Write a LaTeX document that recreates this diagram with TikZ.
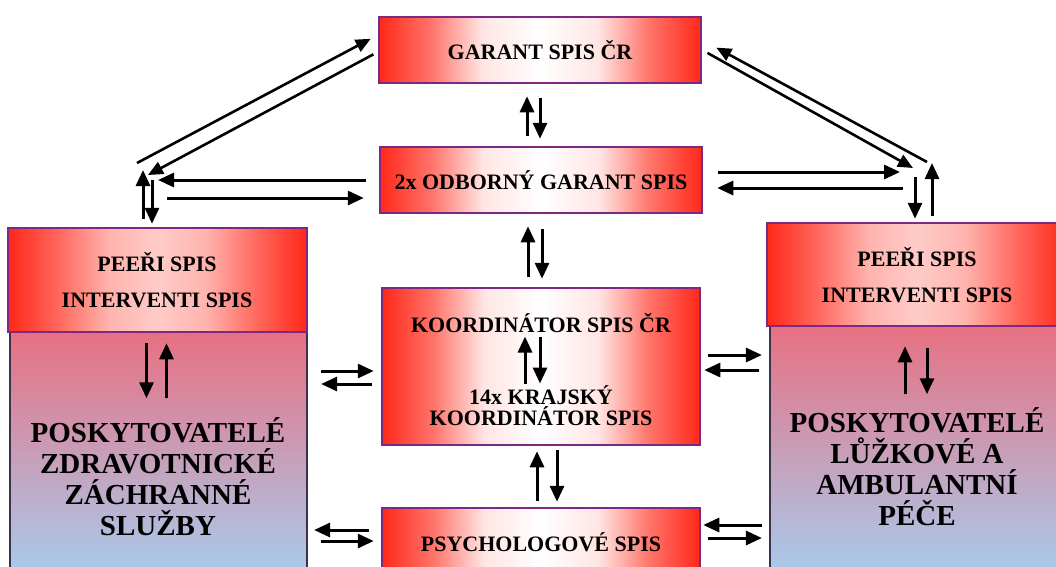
\documentclass[tikz,border=0pt]{standalone}
\usepackage{fontspec}
\setmainfont{Liberation Serif}
\usetikzlibrary{arrows.meta,calc}
\definecolor{cR}{RGB}{255,40,25}
\definecolor{cP}{RGB}{125,40,130}
\definecolor{cB}{RGB}{60,50,75}
\definecolor{cTop}{RGB}{232,112,130}
\definecolor{cBot}{RGB}{166,206,240}
\pgfdeclarehorizontalshading{rwr}{100bp}{color(0bp)=(cR); color(25bp)=(cR); color(33bp)=(cR!65!white); color(41bp)=(cR!12!white); color(50bp)=(white); color(59bp)=(cR!12!white); color(67bp)=(cR!65!white); color(75bp)=(cR); color(100bp)=(cR)}
\pgfdeclarehorizontalshading{rpr}{100bp}{color(0bp)=(cR); color(25bp)=(cR); color(33bp)=(cR!72!white); color(42bp)=(cR!35!white); color(50bp)=(cR!24!white); color(58bp)=(cR!35!white); color(67bp)=(cR!72!white); color(75bp)=(cR); color(100bp)=(cR)}
\tikzset{
  cbox/.style={draw=cP, line width=2.5pt, shading=rwr, minimum width=322pt, inner sep=0pt,
    font=\fontsize{22}{24}\selectfont\bfseries, align=center},
  hbox/.style={draw=cP, line width=2.5pt, shading=rpr, inner sep=0pt},
  bbox/.style={draw=cB, line width=2.2pt, top color=cTop, bottom color=cBot, inner sep=0pt},
  small/.style={font=\fontsize{22}{24}\selectfont\bfseries, align=center, inner sep=0pt},
  big/.style={font=\fontsize{29}{31}\selectfont\bfseries, align=center, inner sep=0pt},
  arr/.style={line width=3pt, -{Triangle[length=16pt,width=14pt]}},
  darr/.style={line width=2.6pt, -{Triangle[length=15pt,width=13pt]}}
}
\begin{document}
\begin{tikzpicture}[x=1pt,y=-1pt]
\useasboundingbox (0,0) rectangle (1056,566);
\clip (0,0) rectangle (1056,566);
\fill[white] (0,0) rectangle (1056,566);

% central boxes
\node[cbox, minimum height=66pt] (gar) at (540,50) {GARANT SPIS ČR};
\node[cbox, minimum height=66pt] (odb) at (541,180) {2x ODBORNÝ GARANT SPIS};
\node[cbox, minimum width=318pt, minimum height=157pt] (koord) at (541,366.5) {};
\node[cbox, minimum width=318pt, minimum height=68pt] (psych) at (541,542) {PSYCHOLOGOVÉ SPIS};
\node[small] (k1) at (541,323) {KOORDINÁTOR SPIS ČR};
\node[small] (k2) at (541,406) {14x KRAJSKÝ\\[-3pt]KOORDINÁTOR SPIS};

% side boxes
\node[bbox, minimum width=297pt, minimum height=250pt] (lbody) at (158.5,457) {};
\node[hbox, minimum width=299pt, minimum height=104pt] (lpeer) at (157.5,280) {};
\node[bbox, minimum width=300pt, minimum height=256pt] (rbody) at (920,454) {};
\node[hbox, minimum width=300pt, minimum height=103pt] (rpeer) at (917,274.5) {};

\node[small] (lp1) at (157,262) {PEEŘI SPIS};
\node[small] (lp2) at (157,300) {INTERVENTI SPIS};
\node[small] (rp1) at (917,257) {PEEŘI SPIS};
\node[small] (rp2) at (917,295) {INTERVENTI SPIS};
\node[big] (ltxt) at (158,477) {POSKYTOVATELÉ\\ZDRAVOTNICKÉ\\ZÁCHRANNÉ\\SLUŽBY};
\node[big] (rtxt) at (917,467) {POSKYTOVATELÉ\\LŮŽKOVÉ A\\AMBULANTNÍ\\PÉČE};

% vertical pairs between central boxes
\draw[arr, shorten <=10pt, shorten >=12pt] (odb.north -| 527,0) -- (gar.south -| 527,0);
\draw[arr, shorten <=14pt, shorten >=7pt] (gar.south -| 540,0) -- (odb.north -| 540,0);
\draw[arr, shorten <=10pt, shorten >=12pt] (koord.north -| 528,0) -- (odb.south -| 528,0);
\draw[arr, shorten <=15pt, shorten >=8pt] (odb.south -| 542,0) -- (koord.north -| 542,0);
\draw[arr, shorten <=6pt, shorten >=5pt] (psych.north -| 537,0) -- (koord.south -| 537,0);
\draw[arr, shorten <=4pt, shorten >=5pt] (koord.south -| 557,0) -- (psych.north -| 557,0);
% inside koordinator
\draw[arr] ($(koord.center)+(-16,17)$) -- ($(koord.center)+(-16,-30)$);
\draw[arr] ($(koord.center)+(-1,-30)$) -- ($(koord.center)+(-1,17)$);

% inside side bodies
\draw[arr] ($(lpeer.south)+(-11,10)$) -- ($(lpeer.south)+(-11,65)$);
\draw[arr] ($(lpeer.south)+(9,65)$) -- ($(lpeer.south)+(9,10)$);
\draw[arr] ($(rpeer.south)+(-12,67)$) -- ($(rpeer.south)+(-12,19)$);
\draw[arr] ($(rpeer.south)+(10,21)$) -- ($(rpeer.south)+(10,67)$);

% horizontal pairs
\draw[arr, shorten <=13pt, shorten >=7pt] (lbody.east |- 0,371) -- (koord.west |- 0,371);
\draw[arr, shorten <=9pt, shorten >=13pt] (koord.west |- 0,384) -- (lbody.east |- 0,384);
\draw[arr, shorten <=12pt, shorten >=6pt] (psych.west |- 0,530) -- (lbody.east |- 0,530);
\draw[arr, shorten <=13pt, shorten >=7pt] (lbody.east |- 0,541) -- (psych.west |- 0,541);
\draw[arr, shorten <=7pt, shorten >=7pt] (koord.east |- 0,355) -- (rbody.west |- 0,355);
\draw[arr, shorten <=10pt, shorten >=3pt] (rbody.west |- 0,370) -- (koord.east |- 0,370);
\draw[arr, shorten <=7pt, shorten >=2pt] (rbody.west |- 0,525) -- (psych.east |- 0,525);
\draw[arr, shorten <=7pt, shorten >=7pt] (psych.east |- 0,538) -- (rbody.west |- 0,538);

% top-left junction
\coordinate (la) at (137,163);
\coordinate (lb) at (148,175);
\coordinate (lc) at (158,180);
\coordinate (ld) at (167,198);
\coordinate (le) at (143,170);
\coordinate (lf) at (152,180);
\draw[darr, shorten >=8pt] (la) -- (gar.west |- 0,35);
\draw[darr, shorten <=5pt] (gar.west |- 0,52) -- (lb);
\draw[arr, shorten <=13pt] (odb.west |- 0,180) -- (lc);
\draw[arr, shorten >=15pt] (ld) -- (odb.west |- 0,198);
\draw[arr, shorten <=8pt] (lpeer.north -| 143,0) -- (le);
\draw[arr, shorten >=3pt] (lf) -- (lpeer.north -| 152,0);

% top-right junction
\coordinate (ra) at (927,162);
\coordinate (rb) at (913,168);
\coordinate (rc) at (900,172);
\coordinate (rd) at (903,188);
\coordinate (re) at (915,177);
\coordinate (rf) at (932,163);
\draw[darr, shorten >=16pt] (ra) -- (gar.east |- 0,40);
\draw[darr, shorten <=6pt] (gar.east |- 0,50) -- (rb);
\draw[arr, shorten <=15pt] (odb.east |- 0,172) -- (rc);
\draw[arr, shorten >=14pt] (rd) -- (odb.east |- 0,188);
\draw[arr, shorten >=3pt] (re) -- (rpeer.north -| 915,0);
\draw[arr, shorten <=6pt] (rpeer.north -| 932,0) -- (rf);
\end{tikzpicture}
\end{document}
